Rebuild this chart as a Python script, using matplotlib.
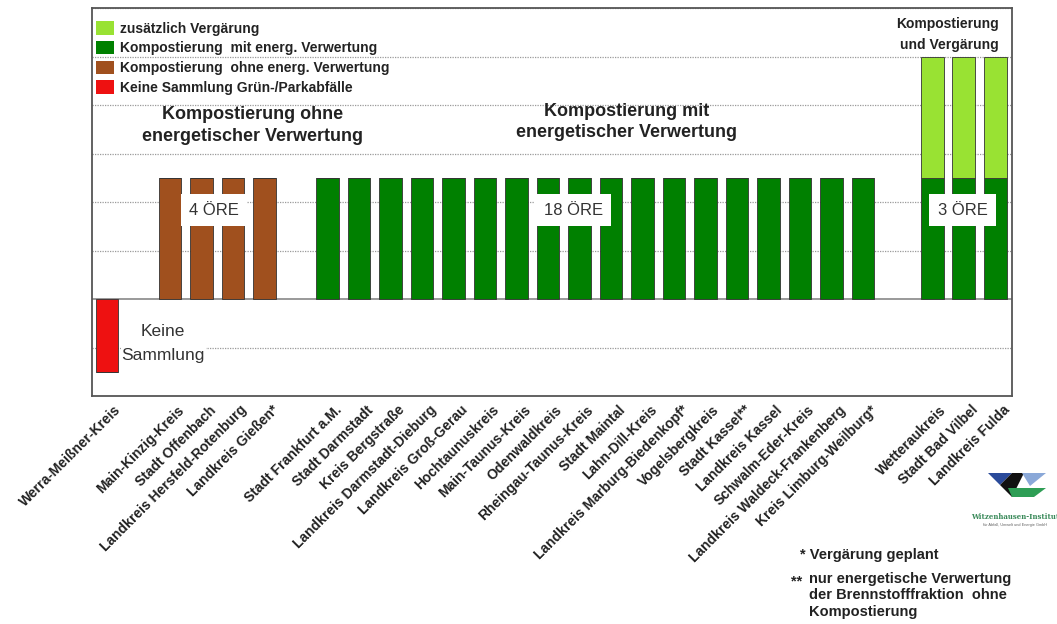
import numpy as np
import matplotlib
matplotlib.use('Agg')
import matplotlib.pyplot as plt
import matplotlib.transforms as mtransforms
from matplotlib.patches import Patch, Polygon

plt.rcParams['font.family'] = ['Liberation Sans', 'DejaVu Sans']

# --- data ---------------------------------------------------------------
kreise = ['Werra-Meißner-Kreis',
          'Main-Kinzig-Kreis', 'Stadt Offenbach', 'Landkreis Hersfeld-Rotenburg', 'Landkreis Gießen*',
          'Stadt Frankfurt a.M.', 'Stadt Darmstadt', 'Kreis Bergstraße', 'Landkreis Darmstadt-Dieburg',
          'Landkreis Groß-Gerau', 'Hochtaunuskreis', 'Main-Taunus-Kreis', 'Odenwaldkreis',
          'Rheingau-Taunus-Kreis', 'Stadt Maintal', 'Lahn-Dill-Kreis', 'Landkreis Marburg-Biedenkopf*',
          'Vogelsbergkreis', 'Stadt Kassel**', 'Landkreis Kassel', 'Schwalm-Eder-Kreis',
          'Landkreis Waldeck-Frankenberg', 'Kreis Limburg-Weilburg*',
          'Wetteraukreis', 'Stadt Bad Vilbel', 'Landkreis Fulda']
gruppe = ['keine'] + ['ohne'] * 4 + ['mit'] * 18 + ['verg'] * 3
kompost = [-1.5] + [2.5] * 4 + [2.5] * 18 + [2.5] * 3
vergaerung = [0] * 23 + [2.5] * 3

legend_labels = ['zusätzlich Vergärung', 'Kompostierung  mit energ. Verwertung',
                 'Kompostierung  ohne energ. Verwertung', 'Keine Sammlung Grün-/Parkabfälle']

farben = {'keine': '#EE1111', 'ohne': '#A0501E', 'mit': '#008000', 'verg': '#008000'}
hellgruen = '#99E233'

# slot positions with gaps between the groups
gap = {'keine': 0, 'ohne': 1, 'mit': 2, 'verg': 3.2}
pos = np.array([i + gap[g] for i, g in enumerate(gruppe)])

fig = plt.figure(figsize=(10.57, 6.24), dpi=100)
ax = fig.add_axes([92 / 1057, 1 - 396 / 624, 920 / 1057, 388 / 624])

ax.set_xlim(-0.48, 28.73)
ax.set_ylim(-2, 6)
for y in range(-1, 7):
    if y != 0:
        ax.axhline(y, color='#9a9a9a', lw=0.9, ls=(0, (1, 1)), zorder=0)
ax.axhline(0, color='#888888', lw=1.2, zorder=1)

cols = [farben[g] for g in gruppe]
ax.bar(pos, kompost, width=0.72, color=cols, edgecolor='#333333', linewidth=0.6, zorder=2)
ax.bar(pos, vergaerung, bottom=kompost, width=0.72, color=hellgruen,
       edgecolor='#333333', linewidth=0.6, zorder=2)

for s in ax.spines.values():
    s.set_color('#555555')
    s.set_linewidth(1.3)
ax.set_yticks([])
ax.set_xticks(pos)
ax.set_xticklabels(kreise, rotation=45, ha='right', rotation_mode='anchor',
                   fontsize=10, fontweight='bold', color='#222222')
ax.tick_params(axis='x', length=0, pad=5)
shift = mtransforms.ScaledTranslation(7 / 100, 0, fig.dpi_scale_trans)
for lbl in ax.get_xticklabels():
    lbl.set_transform(lbl.get_transform() + shift)

handles = [Patch(facecolor=hellgruen), Patch(facecolor='#008000'),
           Patch(facecolor='#A0501E'), Patch(facecolor='#EE1111')]
leg = ax.legend(handles, legend_labels, loc='upper left', frameon=False,
                bbox_to_anchor=(-0.002, 0.98), handlelength=1.35, handleheight=1.1,
                handletextpad=0.4, labelspacing=0.38, borderaxespad=0.0,
                prop={'size': 10, 'weight': 'bold'})
for t in leg.get_texts():
    t.set_color('#222222')

box = dict(facecolor='white', edgecolor='none', pad=6)
for x, txt in [(3.4, '4 ÖRE'), (14.8, '18 ÖRE'), (27.16, '3 ÖRE')]:
    ax.text(x, 1.83, txt, ha='center', va='center', fontsize=12, color='#333333',
            bbox=box, zorder=3)
ax.text(1.78, -0.92, 'Keine\nSammlung', ha='center', va='center', fontsize=12.5,
        color='#333333', linespacing=1.7, zorder=3,
        bbox=dict(facecolor='white', edgecolor='none', pad=0.5))

ax.text(4.63, 3.58, 'Kompostierung ohne\nenergetischer Verwertung', ha='center', va='center',
        fontsize=13, fontweight='bold', color='#222222', linespacing=1.36)
ax.text(16.5, 3.65, 'Kompostierung mit\nenergetischer Verwertung', ha='center', va='center',
        fontsize=13, fontweight='bold', color='#222222', linespacing=1.36)
ax.text(28.32, 5.45, 'Kompostierung\nund Vergärung', ha='right', va='center',
        fontsize=10, fontweight='bold', color='#222222', linespacing=1.6)

# footnotes
fig.text(800 / 1057, 1 - 555 / 624, '* Vergärung geplant', fontsize=10.5, fontweight='bold',
         color='#222222', va='center')
fig.text(791 / 1057, 1 - 581 / 624, '**', fontsize=10.5, fontweight='bold',
         color='#222222', va='center')
fig.text(809 / 1057, 1 - 572 / 624, 'nur energetische Verwertung\nder Brennstofffraktion  ohne\nKompostierung',
         fontsize=10.5, fontweight='bold', color='#222222', va='top', linespacing=1.22)

# logo (simplified)
def fpoly(pts, c):
    p = Polygon([(x / 1057, 1 - y / 624) for x, y in pts], closed=True,
                transform=fig.transFigure, facecolor=c, edgecolor='none')
    fig.patches.append(p)

fpoly([(988, 473), (1012, 473), (1000, 485)], '#2a4a9a')
fpoly([(1000, 485), (1012, 473), (1024, 473), (1012, 497)], '#111111')
fpoly([(1008, 488), (1046, 488), (1034, 497), (1012, 497)], '#2e9e55')
fpoly([(1022, 473), (1046, 473), (1030, 486)], '#8aa8d8')
fig.text(1015 / 1057, 1 - 517 / 624, 'Witzenhausen-Institut', fontsize=5, color='#3a8a5a',
         ha='center', va='center', family='serif', fontweight='bold')
fig.text(1015 / 1057, 1 - 525 / 624, 'für Abfall, Umwelt und Energie GmbH', fontsize=2.8,
         color='#666666', ha='center', va='center')

fig.savefig('out.png', dpi=100)
